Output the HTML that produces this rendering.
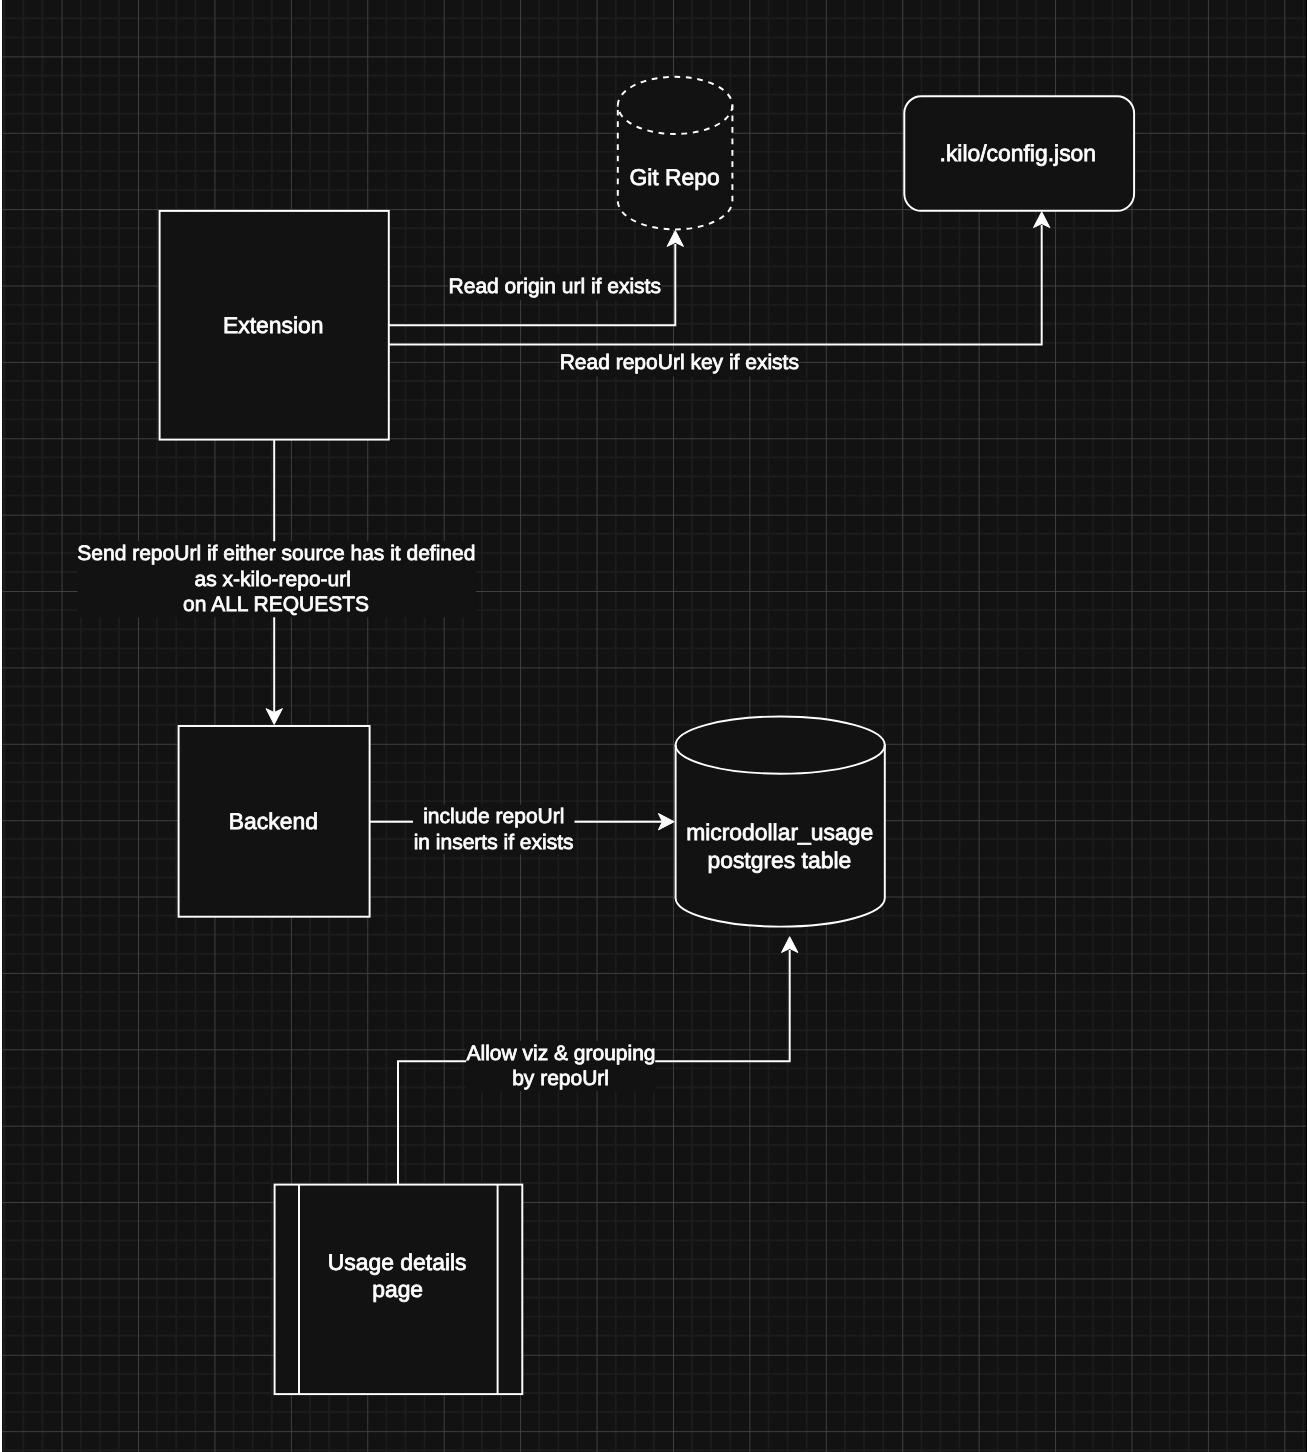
<!DOCTYPE html>
<html><head><meta charset="utf-8"><title>Diagram</title>
<style>html,body{margin:0;padding:0;background:#121212;overflow:hidden;font-family:"Liberation Sans",sans-serif;}svg{display:block;}</style>
</head><body>
<svg width="1308" height="1452" viewBox="0 0 1308 1452" style="will-change:transform"><rect width="1308" height="1452" fill="#121212"/><path d="M4.31 0V1452M23.41 0V1452M42.52 0V1452M80.72 0V1452M99.83 0V1452M118.93 0V1452M157.15 0V1452M176.25 0V1452M195.36 0V1452M233.56 0V1452M252.67 0V1452M271.77 0V1452M309.99 0V1452M329.09 0V1452M348.19 0V1452M386.41 0V1452M405.51 0V1452M424.62 0V1452M462.82 0V1452M481.93 0V1452M501.04 0V1452M539.25 0V1452M558.35 0V1452M577.46 0V1452M615.66 0V1452M634.77 0V1452M653.88 0V1452M692.09 0V1452M711.19 0V1452M730.3 0V1452M768.5 0V1452M787.61 0V1452M806.72 0V1452M844.93 0V1452M864.03 0V1452M883.13 0V1452M921.35 0V1452M940.45 0V1452M959.56 0V1452M997.76 0V1452M1016.87 0V1452M1035.97 0V1452M1074.18 0V1452M1093.29 0V1452M1112.39 0V1452M1150.61 0V1452M1169.71 0V1452M1188.81 0V1452M1227.02 0V1452M1246.13 0V1452M1265.23 0V1452M1303.44 0V1452M0 -0.86H1308M0 18.23H1308M0 37.33H1308M0 75.51H1308M0 94.61H1308M0 113.7H1308M0 151.89H1308M0 170.98H1308M0 190.08H1308M0 228.27H1308M0 247.36H1308M0 266.45H1308M0 304.64H1308M0 323.74H1308M0 342.83H1308M0 381.02H1308M0 400.11H1308M0 419.21H1308M0 457.39H1308M0 476.49H1308M0 495.58H1308M0 533.77H1308M0 552.86H1308M0 571.96H1308M0 610.15H1308M0 629.24H1308M0 648.33H1308M0 686.52H1308M0 705.62H1308M0 724.71H1308M0 762.9H1308M0 781.99H1308M0 801.09H1308M0 839.27H1308M0 858.37H1308M0 877.46H1308M0 915.65H1308M0 934.74H1308M0 953.84H1308M0 992.03H1308M0 1011.12H1308M0 1030.21H1308M0 1068.4H1308M0 1087.5H1308M0 1106.59H1308M0 1144.78H1308M0 1163.87H1308M0 1182.97H1308M0 1221.15H1308M0 1240.25H1308M0 1259.34H1308M0 1297.53H1308M0 1316.62H1308M0 1335.72H1308M0 1373.91H1308M0 1393H1308M0 1412.09H1308M0 1450.28H1308" stroke="#1c1c1c" stroke-width="1.9" fill="none"/>
<path d="M62.1 0V1452M138.52 0V1452M214.94 0V1452M291.36 0V1452M367.78 0V1452M444.2 0V1452M520.62 0V1452M597.04 0V1452M673.46 0V1452M749.88 0V1452M826.3 0V1452M902.72 0V1452M979.14 0V1452M1055.56 0V1452M1131.98 0V1452M1208.4 0V1452M1284.82 0V1452M0 56.9H1308M0 133.28H1308M0 209.65H1308M0 286.03H1308M0 362.4H1308M0 438.78H1308M0 515.16H1308M0 591.53H1308M0 667.91H1308M0 744.28H1308M0 820.66H1308M0 897.04H1308M0 973.41H1308M0 1049.79H1308M0 1126.16H1308M0 1202.54H1308M0 1278.92H1308M0 1355.29H1308M0 1431.67H1308" stroke="#424242" stroke-width="0.95" fill="none"/>
<path d="M388.8 325.3 L675.3 325.3 L675.3 244" fill="none" stroke="#ffffff" stroke-width="1.95"/>
<path d="M675.3 230.6 L667.1 246.4 L675.3 242.45 L683.5 246.4Z" fill="#ffffff" stroke="#ffffff" stroke-width="1" stroke-linejoin="miter"/>
<path d="M388.8 344.4 L1041.7 344.4 L1041.7 225" fill="none" stroke="#ffffff" stroke-width="1.95"/>
<path d="M1041.7 211.8 L1033.5 227.6 L1041.7 223.65 L1049.9 227.6Z" fill="#ffffff" stroke="#ffffff" stroke-width="1" stroke-linejoin="miter"/>
<path d="M274.2 439.6 L274.2 712" fill="none" stroke="#ffffff" stroke-width="1.95"/>
<path d="M274.2 724.4 L266 708.6 L274.2 712.55 L282.4 708.6Z" fill="#ffffff" stroke="#ffffff" stroke-width="1" stroke-linejoin="miter"/>
<path d="M369.6 821.7 L662 821.7" fill="none" stroke="#ffffff" stroke-width="1.95"/>
<path d="M674.2 821.7 L658.4 813.5 L662.35 821.7 L658.4 829.9Z" fill="#ffffff" stroke="#ffffff" stroke-width="1" stroke-linejoin="miter"/>
<path d="M398 1184.6 L398 1061.2 L789.7 1061.2 L789.7 950" fill="none" stroke="#ffffff" stroke-width="1.95"/>
<path d="M789.7 936.7 L781.5 952.5 L789.7 948.55 L797.9 952.5Z" fill="#ffffff" stroke="#ffffff" stroke-width="1" stroke-linejoin="miter"/>
<path d="M617.8 105.4 A57.3 28.6 0 0 1 732.4 105.4 L732.4 200.8 A57.3 28.6 0 0 1 617.8 200.8 Z" fill="#121212" stroke="#ffffff" stroke-width="1.95" stroke-dasharray="5.72 5.72" stroke-dashoffset="0"/><path d="M732.4 105.4 A57.3 28.6 0 0 1 617.8 105.4" fill="none" stroke="#ffffff" stroke-width="1.95" stroke-dasharray="5.72 5.72" stroke-dashoffset="0"/>
<rect x="904.3" y="96.3" width="229.8" height="114.5" rx="17" fill="#121212" stroke="#ffffff" stroke-width="1.95"/>
<rect x="159.6" y="210.9" width="229.2" height="228.7" fill="#121212" stroke="#ffffff" stroke-width="1.95"/>
<rect x="178.6" y="726" width="191" height="190.7" fill="#121212" stroke="#ffffff" stroke-width="1.95"/>
<path d="M675.6 745.1 A104.6 28.6 0 0 1 884.8 745.1 L884.8 898 A104.6 28.6 0 0 1 675.6 898 Z" fill="#121212" stroke="#ffffff" stroke-width="1.95"/><path d="M884.8 745.1 A104.6 28.6 0 0 1 675.6 745.1" fill="none" stroke="#ffffff" stroke-width="1.95"/>
<rect x="274.6" y="1184.6" width="247.7" height="209.5" fill="#121212" stroke="#ffffff" stroke-width="1.95"/>
<path d="M299 1184.6 L299 1394.1" fill="none" stroke="#ffffff" stroke-width="1.95"/>
<path d="M497.6 1184.6 L497.6 1394.1" fill="none" stroke="#ffffff" stroke-width="1.95"/>
<rect x="77.6" y="541.2" width="398.2" height="76.1" fill="#121212"/>
<rect x="413" y="804.7" width="161.5" height="49.5" fill="#121212"/>
<rect x="466.1" y="1041" width="189.1" height="50.1" fill="#121212"/>
<rect x="448.3" y="274.2" width="213.2" height="25.6" fill="#121212"/>
<rect x="559.7" y="350.7" width="239.4" height="25.6" fill="#121212"/>
<g fill="#ffffff" stroke="#ffffff" stroke-width="0.75" text-rendering="geometricPrecision" text-anchor="middle" font-family="'Liberation Sans', sans-serif"><text x="1017.8" y="161" font-size="22.9">.kilo/config.json</text><text x="674.6" y="185" font-size="22.9">Git Repo</text><text x="273.2" y="333" font-size="22.9">Extension</text><text x="273.4" y="829" font-size="22.9">Backend</text><text x="779.65" y="840" font-size="22.9">microdollar_usage</text><text x="779.35" y="868" font-size="22.9">postgres table</text><text x="397.15" y="1270" font-size="22.9">Usage details</text><text x="397.65" y="1297" font-size="22.9">page</text><text x="554.75" y="293" font-size="21.0">Read origin url if exists</text><text x="679.3" y="369" font-size="21.0">Read repoUrl key if exists</text><text x="276.35" y="560" font-size="21.0">Send repoUrl if either source has it defined</text><text x="272.75" y="586" font-size="21.0">as x-kilo-repo-url</text><text x="276.1" y="611" font-size="21.0">on ALL REQUESTS</text><text x="493.8" y="823" font-size="21.0">include repoUrl</text><text x="493.6" y="849" font-size="21.0">in inserts if exists</text><text x="561" y="1060" font-size="21.0">Allow viz &amp; grouping</text><text x="560.6" y="1085" font-size="21.0">by repoUrl</text></g>
<rect x="0" y="0" width="2" height="1452" fill="#ffffff"/>
<rect x="1306" y="0" width="1" height="1452" fill="#000000"/>
<rect x="1307" y="0" width="1" height="1452" fill="#ffffff"/></svg>
</body></html>
